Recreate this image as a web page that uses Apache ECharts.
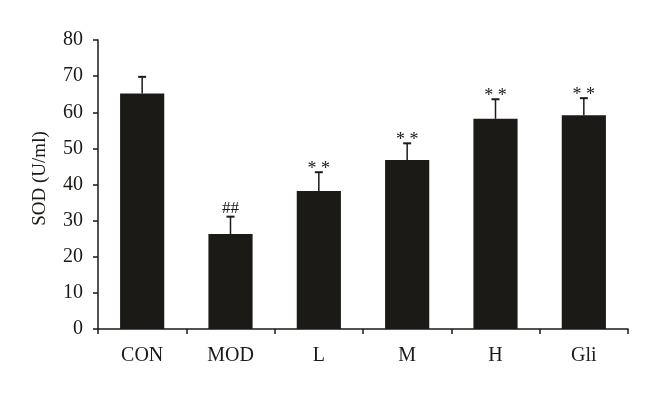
<!DOCTYPE html>
<html><head><meta charset="utf-8">
<script src="https://cdn.jsdelivr.net/npm/echarts@6/dist/echarts.min.js"></script>
<style>html,body{margin:0;padding:0;background:#fff}#c{width:660px;height:394px}</style>
</head><body><div id="c"></div>
<script>
const categories = ['CON', 'MOD', 'L', 'M', 'H', 'Gli'];
const means = [65.2, 26.3, 38.2, 46.8, 58.2, 59.2];
const errors = [4.6, 4.8, 5.2, 4.6, 5.4, 4.7];
const marks = ['', '##', '**', '**', '**', '**'];
const yTicks = [0, 10, 20, 30, 40, 50, 60, 70, 80];

const font = 'Liberation Serif';
const ink = '#1c1a17';
const chart = echarts.init(document.getElementById('c'));
const errData = categories.map((c, i) => [i, means[i], means[i] + errors[i], marks[i]]);
chart.setOption({
  animation: false,
  grid: { left: 98, right: 32, top: 40, bottom: 65 },
  xAxis: {
    type: 'category', data: categories,
    axisLine: { lineStyle: { color: ink, width: 1.5 } },
    axisTick: { show: true, length: 5, alignWithLabel: false, lineStyle: { color: ink, width: 1.5 } },
    axisLabel: { fontFamily: font, fontSize: 20, color: ink, margin: 17 }
  },
  yAxis: {
    type: 'value', min: yTicks[0], max: yTicks[yTicks.length - 1], interval: 10,
    name: 'SOD (U/ml)', nameLocation: 'middle', nameGap: 48,
    nameTextStyle: { fontFamily: font, fontSize: 19, color: ink, padding: [0, 0, 0, 12] },
    splitLine: { show: false },
    axisLine: { show: true, lineStyle: { color: ink, width: 1.5 } },
    axisTick: { show: true, length: 5, lineStyle: { color: ink, width: 1.5 } },
    axisLabel: { fontFamily: font, fontSize: 20, color: ink, margin: 15 }
  },
  series: [
    { type: 'bar', data: means, barWidth: '50%', itemStyle: { color: ink } },
    {
      type: 'custom', data: errData, z: 5,
      renderItem: function (params, api) {
        const x = api.value(0);
        const base = api.coord([x, api.value(1)]);
        const top = api.coord([x, api.value(2)]);
        const cap = 4;
        const children = [
          { type: 'line', shape: { x1: base[0], y1: base[1], x2: top[0], y2: top[1] }, style: { stroke: ink, lineWidth: 1.5 } },
          { type: 'line', shape: { x1: top[0] - cap, y1: top[1], x2: top[0] + cap, y2: top[1] }, style: { stroke: ink, lineWidth: 2 } }
        ];
        const t = api.value(3);
        if (t) {
          const star = t === '**';
          children.push({ type: 'text', style: { text: star ? '* *' : t, x: top[0], y: top[1] + (star ? 6 : 0), align: 'center', verticalAlign: 'bottom', font: (star ? 18 : 17) + 'px "Liberation Serif"', fill: ink } });
        }
        return { type: 'group', children: children };
      }
    }
  ]
});
</script></body></html>
